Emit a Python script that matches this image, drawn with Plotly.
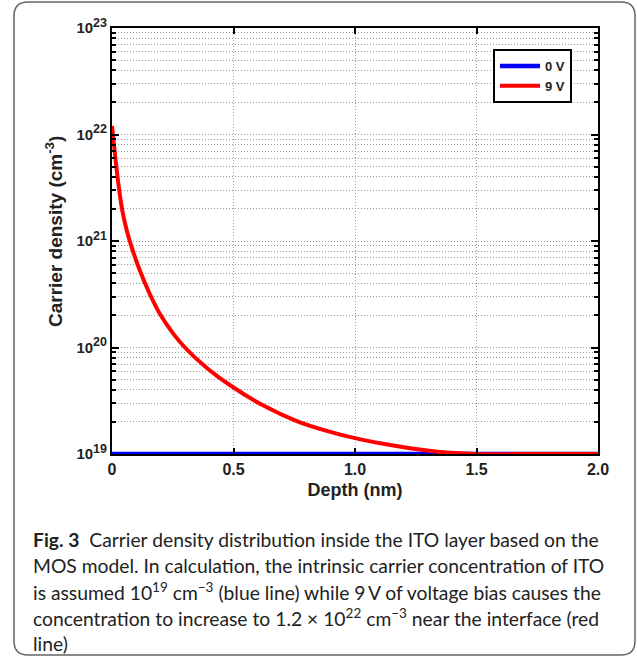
import plotly.graph_objects as go

# ---- data ----
depth_9v = [0, 0.0148, 0.0284, 0.042, 0.063, 0.088, 0.115, 0.156, 0.198, 0.252, 0.30,
            0.389, 0.486, 0.623, 0.76, 0.88, 1.0, 1.17, 1.34, 1.5, 1.75, 2.0]
dens_9v = [1.2e22, 5.75e21, 3.16e21, 1.95e21, 1.2e21, 7.8e20, 5.25e20, 3.16e20, 2.05e20,
           1.35e20, 1.0e20, 6.45e19, 4.42e19, 2.85e19, 2.04e19, 1.66e19, 1.41e19,
           1.19e19, 1.05e19, 1.0e19, 1.0e19, 1.0e19]
depth_0v = [0, 2.0]
dens_0v = [1e19, 1e19]
series_names = ["0 V", "9 V"]
x_ticks = [0, 0.5, 1.0, 1.5, 2.0]
x_ticklabels = ["0", "0.5", "1.0", "1.5", "2.0"]
y_exps = [19, 20, 21, 22, 23]

caption_lines = [
    "<b>Fig. 3</b>  Carrier density distribution inside the ITO layer based on the",
    "MOS model. In calculation, the intrinsic carrier concentration of ITO",
    "is assumed 10<sup>19</sup> cm<sup>\u22123</sup> (blue line) while 9\u2009V of voltage bias causes the",
    "concentration to increase to 1.2 \u00d7 10<sup>22</sup> cm<sup>\u22123</sup> near the interface (red",
    "line)",
]

W, H = 637, 658
L, R, T, B = 112, 39, 28, 204
pw, ph = W - L - R, H - T - B

def px_x(p):
    return (p - L) / pw

def px_y(p):
    return 1 - (p - T) / ph

fig = go.Figure()
fig.add_trace(go.Scatter(x=depth_0v, y=dens_0v, mode="lines", name="<b>%s</b>" % series_names[0],
                         line=dict(color="#0000ff", width=4.5)))
fig.add_trace(go.Scatter(x=depth_9v, y=dens_9v, mode="lines", name="<b>%s</b>" % series_names[1],
                         line=dict(color="#ff0000", width=4, shape="spline", smoothing=0.8)))

minor_vals = [float(k) * 10.0 ** e for e in range(19, 23) for k in range(2, 10)]
GRID = "#9a9a9a"
DASH = "1px,2px"

fig.update_xaxes(range=[0, 2.0], tickvals=x_ticks,
                 ticktext=["<b>%s</b>" % t for t in x_ticklabels],
                 ticks="inside", ticklen=6, tickwidth=2, tickcolor="black",
                 showline=True, linecolor="black", linewidth=2, mirror="ticks",
                 showgrid=True, gridcolor=GRID, griddash=DASH, gridwidth=1,
                 zeroline=False,
                 tickfont=dict(family="Liberation Sans", size=16, color="#222"),
                 title=dict(text="<b>Depth (nm)</b>", standoff=6,
                            font=dict(family="Liberation Sans", size=18, color="#222")))
fig.update_yaxes(type="log", range=[19, 23],
                 tickvals=[10.0 ** e for e in y_exps],
                 ticktext=["<b>10<sup><span style='font-size:12.5px'>%d</span></sup></b>" % e
                           for e in y_exps],
                 ticks="inside", ticklen=7, tickwidth=2, tickcolor="black",
                 showline=True, linecolor="black", linewidth=2, mirror="ticks",
                 showgrid=True, gridcolor=GRID, griddash=DASH, gridwidth=1,
                 minor=dict(tickvals=minor_vals, ticks="inside", ticklen=4, tickwidth=1.5,
                            tickcolor="black", showgrid=True, gridcolor=GRID,
                            griddash=DASH, gridwidth=1),
                 zeroline=False,
                 tickfont=dict(family="Liberation Sans", size=15, color="#222"))

annotations = [dict(text="<b>Carrier density (cm<sup>-3</sup>)</b>", textangle=-90,
                    xref="paper", yref="paper", x=px_x(54), y=px_y(232),
                    xanchor="center", yanchor="middle", showarrow=False,
                    font=dict(family="Liberation Sans", size=19, color="#222"))]
y0, dy = 539, 26.2
for i, line in enumerate(caption_lines):
    annotations.append(dict(text=line, xref="paper", yref="paper",
                            x=px_x(31), y=px_y(y0 + i * dy), xanchor="left", yanchor="middle",
                            showarrow=False, align="left",
                            font=dict(family="Lato", size=19.3, color="#222")))

# rounded outer frame
x1, x2, y1, y2, r = 14, 635, 2, 655, 14
def P(x, y):
    return "%f,%f" % (px_x(x), px_y(y))
path = ("M " + P(x1 + r, y1) + " L " + P(x2 - r, y1) + " Q " + P(x2, y1) + " " + P(x2, y1 + r)
        + " L " + P(x2, y2 - r) + " Q " + P(x2, y2) + " " + P(x2 - r, y2)
        + " L " + P(x1 + r, y2) + " Q " + P(x1, y2) + " " + P(x1, y2 - r)
        + " L " + P(x1, y1 + r) + " Q " + P(x1, y1) + " " + P(x1 + r, y1) + " Z")

fig.update_layout(
    width=W, height=H, margin=dict(l=L, r=R, t=T, b=B),
    paper_bgcolor="white", plot_bgcolor="white",
    showlegend=True,
    legend=dict(x=px_x(493), y=px_y(49), xanchor="left", yanchor="top",
                bgcolor="white", bordercolor="black", borderwidth=2,
                font=dict(family="Liberation Sans", size=13, color="#222"),
                itemwidth=40, tracegroupgap=0),
    annotations=annotations,
    shapes=[dict(type="path", path=path, xref="paper", yref="paper",
                 line=dict(color="#666", width=1.5), layer="below")],
)

fig.write_html("out.html")
